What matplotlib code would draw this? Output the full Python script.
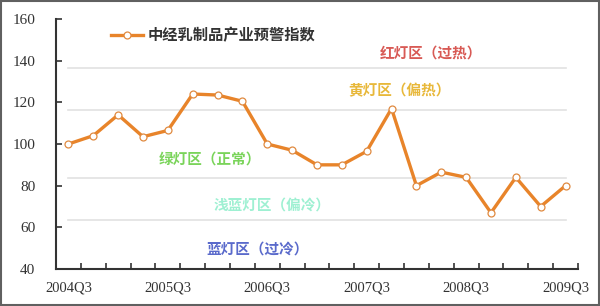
import matplotlib
matplotlib.use("Agg")
import matplotlib.pyplot as plt
from matplotlib.patches import Rectangle

quarters = ["2004Q3", "2004Q4", "2005Q1", "2005Q2", "2005Q3", "2005Q4", "2006Q1",
            "2006Q2", "2006Q3", "2006Q4", "2007Q1", "2007Q2", "2007Q3", "2007Q4",
            "2008Q1", "2008Q2", "2008Q3", "2008Q4", "2009Q1", "2009Q2", "2009Q3"]
index_values = [100, 104, 114, 103.5, 106.5, 124, 123.5, 120.5, 100, 97, 90, 90,
                96.5, 117, 80, 86.5, 84, 67, 84, 70, 80]
series_name = "中经乳制品产业预警指数"
zone_bounds = [136.4, 116.4, 83.6, 63.6]
zone_labels = ["红灯区（过热）", "黄灯区（偏热）", "绿灯区（正常）", "浅蓝灯区（偏冷）", "蓝灯区（过冷）"]
zone_colors = ["#d85a55", "#e8b83a", "#7ad45a", "#9ef0d2", "#5a6acb"]
zone_label_pos = [(14.6, 144), (13.3, 126), (5.7, 93), (8.2, 71), (7.6, 50)]
yticks = [40, 60, 80, 100, 120, 140, 160]
xlabel_step = 4

plt.rcParams['font.family'] = ['Noto Sans CJK SC', 'DejaVu Sans']

fig = plt.figure(figsize=(6.0, 3.06), dpi=100)
fig.patch.set_facecolor("white")
fig.patches.append(Rectangle((0.002, 0.002), 0.996, 0.994, transform=fig.transFigure,
                             fill=False, edgecolor="#606060", linewidth=1.5))

ax = fig.add_axes([0.0933, 0.1209, 0.87, 0.817])
x = list(range(len(quarters)))

for b in zone_bounds:
    ax.plot([0, len(quarters) - 1], [b, b], color="#e2e2e2", linewidth=1.2, zorder=1)

ax.plot(x, index_values, color="#e8842a", linewidth=2.4, marker="o", markersize=5,
        markerfacecolor="white", markeredgecolor="#e08a40", markeredgewidth=0.9,
        label=series_name, zorder=3)

for lab, col, (px, py) in zip(zone_labels, zone_colors, zone_label_pos):
    ax.text(px, py, lab, color=col, fontsize=10.5, ha="center", va="center",
            fontweight="bold", zorder=2)

ax.set_xlim(-0.5, len(quarters) - 0.5)
ax.set_ylim(40, 160)
ax.set_yticks(yticks)
ax.set_yticklabels([str(v) for v in yticks], family=['Liberation Serif'], fontsize=11)

ax.set_xticks([i - 0.5 for i in range(len(quarters) + 1)])
ax.set_xticklabels([])
ax.set_xticks(x[::xlabel_step], minor=True)
ax.set_xticklabels(quarters[::xlabel_step], minor=True, family=['Liberation Serif'], fontsize=10.5)
ax.tick_params(axis="x", which="minor", length=0, pad=9, colors="#333333")
ax.tick_params(axis="x", which="major", direction="in", length=4, width=1.2, color="#333333")
ax.tick_params(axis="y", direction="in", length=4, width=1.2, pad=15, colors="#333333")

for s in ["top", "right"]:
    ax.spines[s].set_visible(False)
for s in ["left", "bottom"]:
    ax.spines[s].set_linewidth(1.5)
    ax.spines[s].set_color("#333333")

leg = ax.legend(loc="center left", bbox_to_anchor=(0.175, 0.885), bbox_transform=fig.transFigure,
                frameon=False, handlelength=2.1, handletextpad=0.3, borderaxespad=0,
                prop={'family': ['Noto Sans CJK SC'], 'size': 11, 'weight': 'bold'})
for t in leg.get_texts():
    t.set_color("#333333")

fig.savefig("out.png", dpi=100, facecolor="white")
